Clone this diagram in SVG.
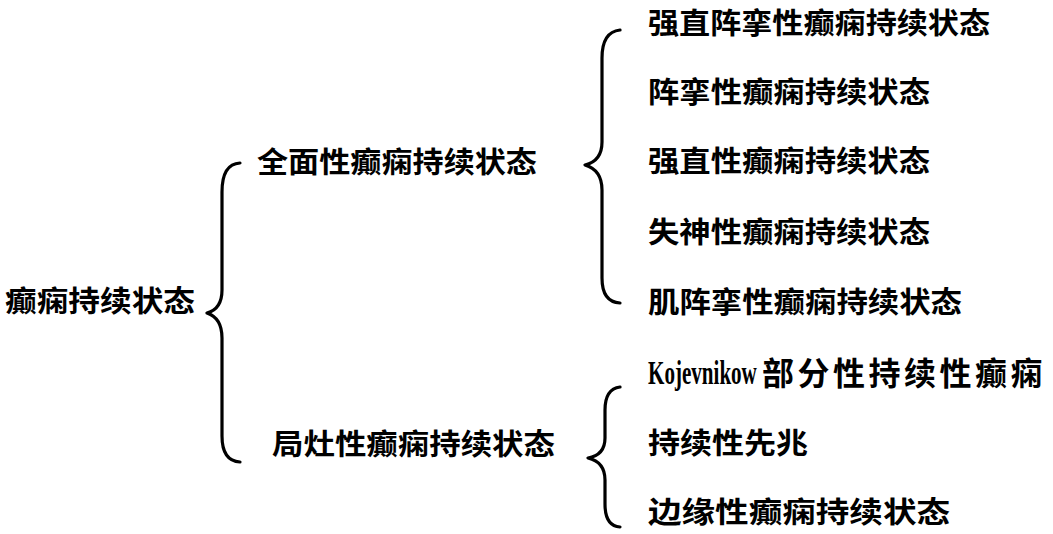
<svg xmlns="http://www.w3.org/2000/svg" width="1053" height="534" viewBox="0 0 1053 534">
<style>
.t{font-family:"Liberation Serif","Noto Sans CJK SC",serif;font-weight:bold;font-size:29px;fill:#000}
.b{fill:none;stroke:#000;stroke-width:3.2;stroke-linecap:round;stroke-linejoin:round}
</style>
<rect width="1053" height="534" fill="#fff"/>
<g id="connectors">
<path class="b" d="M240,163 Q222,164 222,192 L222,290 Q222,309 207,313 Q222,318 222,338 L222,436 Q222,461 240,462"/>
<path class="b" d="M620,30 Q602,32 602,58 L602,142 Q602,161 585,165 Q602,170 602,190 L602,278 Q602,302 620,303"/>
<path class="b" d="M620,387 Q605,389 605,410 L605,438 Q605,455 588,458 Q605,462 605,480 L605,504 Q605,526 620,527"/>
</g>
<g id="root"><text class="t" x="5" y="312" textLength="190" lengthAdjust="spacingAndGlyphs">癫痫持续状态</text></g>
<g id="general"><text class="t" x="257" y="173" textLength="280" lengthAdjust="spacingAndGlyphs">全面性癫痫持续状态</text></g>
<g id="focal"><text class="t" x="272" y="455" textLength="283" lengthAdjust="spacingAndGlyphs">局灶性癫痫持续状态</text></g>
<g id="g1"><text class="t" x="648" y="34" textLength="342" lengthAdjust="spacingAndGlyphs">强直阵挛性癫痫持续状态</text></g>
<g id="g2"><text class="t" x="648" y="103" textLength="282" lengthAdjust="spacingAndGlyphs">阵挛性癫痫持续状态</text></g>
<g id="g3"><text class="t" x="648" y="172" textLength="282" lengthAdjust="spacingAndGlyphs">强直性癫痫持续状态</text></g>
<g id="g4"><text class="t" x="648" y="243" textLength="282" lengthAdjust="spacingAndGlyphs">失神性癫痫持续状态</text></g>
<g id="g5"><text class="t" x="648" y="313" textLength="314" lengthAdjust="spacingAndGlyphs">肌阵挛性癫痫持续状态</text></g>
<g id="f1">
<text class="t" style="font-size:34px" transform="translate(648,384) scale(0.62,1)" x="0" y="0">Kojevnikow</text>
<text class="t" style="font-size:32px;letter-spacing:3.5px" x="762" y="385">部分性持续性癫痫</text>
</g>
<g id="f2"><text class="t" x="648" y="454" textLength="160" lengthAdjust="spacingAndGlyphs">持续性先兆</text></g>
<g id="f3"><text class="t" x="648" y="523" textLength="302" lengthAdjust="spacingAndGlyphs">边缘性癫痫持续状态</text></g>
</svg>
